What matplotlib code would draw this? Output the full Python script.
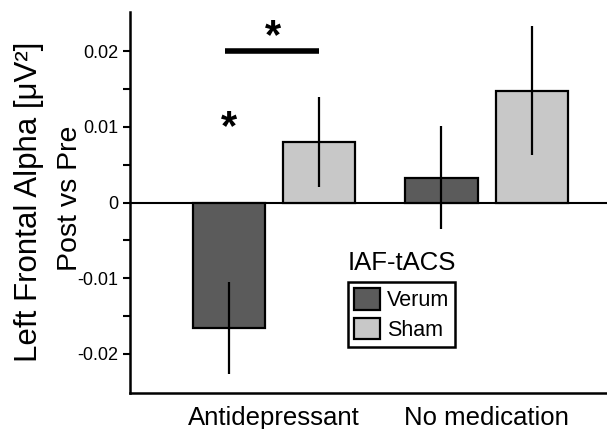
import matplotlib.pyplot as plt
import numpy as np

plt.rcParams['font.family'] = ['Liberation Sans', 'DejaVu Sans']

# data
groups = ['Antidepressant', 'No medication']
conditions = ['Verum', 'Sham']
verum_mean = [-0.0166, 0.0033]
verum_err = [0.0061, 0.0068]
sham_mean = [0.0080, 0.0148]
sham_err = [0.0060, 0.0085]
colors = ['#5b5b5b', '#c8c8c8']

fig = plt.figure(figsize=(6.07, 4.29), dpi=100)
ax = fig.add_axes([0.2142, 0.0839, 0.7858, 0.8881])

x = np.arange(len(groups))
w = 0.339
off = 0.212

for means, errs, col, lab, sgn in [(verum_mean, verum_err, colors[0], conditions[0], -1),
                                   (sham_mean, sham_err, colors[1], conditions[1], 1)]:
    ax.bar(x + sgn * off, means, w, color=col, edgecolor='black', linewidth=1.6,
           label=lab, zorder=2)
    ax.errorbar(x + sgn * off, means, yerr=errs, fmt='none', ecolor='black',
                elinewidth=1.6, capsize=0, zorder=3)

ax.axhline(0, color='black', linewidth=1.5, zorder=1)

# significance markers
ax.plot([x[0] - off - 0.02, x[0] + off], [0.02, 0.02], color='black', linewidth=4,
        solid_capstyle='butt')
ax.text(x[0] - 0.005, 0.0219, '*', ha='center', va='center', fontsize=30, fontweight='bold')
ax.text(x[0] - off, 0.0098, '*', ha='center', va='center', fontsize=30, fontweight='bold')

ax.set_xlim(-0.678, 1.567)
ax.set_ylim(-0.0252, 0.0252)
ax.set_yticks([-0.02, -0.01, 0, 0.01, 0.02])
ax.set_yticklabels(['-0.02', '-0.01', '0', '0.01', '0.02'])
ax.set_yticks([-0.015, -0.005, 0.005, 0.015], minor=True)
ax.tick_params(axis='y', which='both', direction='out', length=5, width=1.5, labelsize=13)
ax.set_xticks(x)
ax.set_xticklabels(groups, fontsize=18.5)
ax.tick_params(axis='x', length=0, pad=9)

for s in ['top', 'right']:
    ax.spines[s].set_visible(False)
for s in ['left', 'bottom']:
    ax.spines[s].set_linewidth(1.8)

fig.text(0.047, 0.53, 'Left Frontal Alpha [μV²]', rotation=90, ha='center', va='center',
         fontsize=22.5)
fig.text(0.116, 0.538, 'Post vs Pre', rotation=90, ha='center', va='center', fontsize=20.5)

leg = ax.legend(loc='upper left', bbox_to_anchor=(348 / 607, 1 - 282 / 429),
                bbox_transform=fig.transFigure, borderaxespad=0,
                fontsize=15.5, frameon=True, fancybox=False,
                edgecolor='black', handlelength=1.2, handleheight=1.15,
                handletextpad=0.3, borderpad=0.3, labelspacing=0.3)
leg.get_frame().set_linewidth(1.8)
leg.get_frame().set_facecolor('white')
leg.get_frame().set_alpha(None)
for p in leg.get_patches():
    p.set_linewidth(1.6)
fig.text(402 / 607, 1 - 263 / 429, 'IAF-tACS', ha='center', va='center', fontsize=18.5)

fig.savefig('out.png', dpi=100)
